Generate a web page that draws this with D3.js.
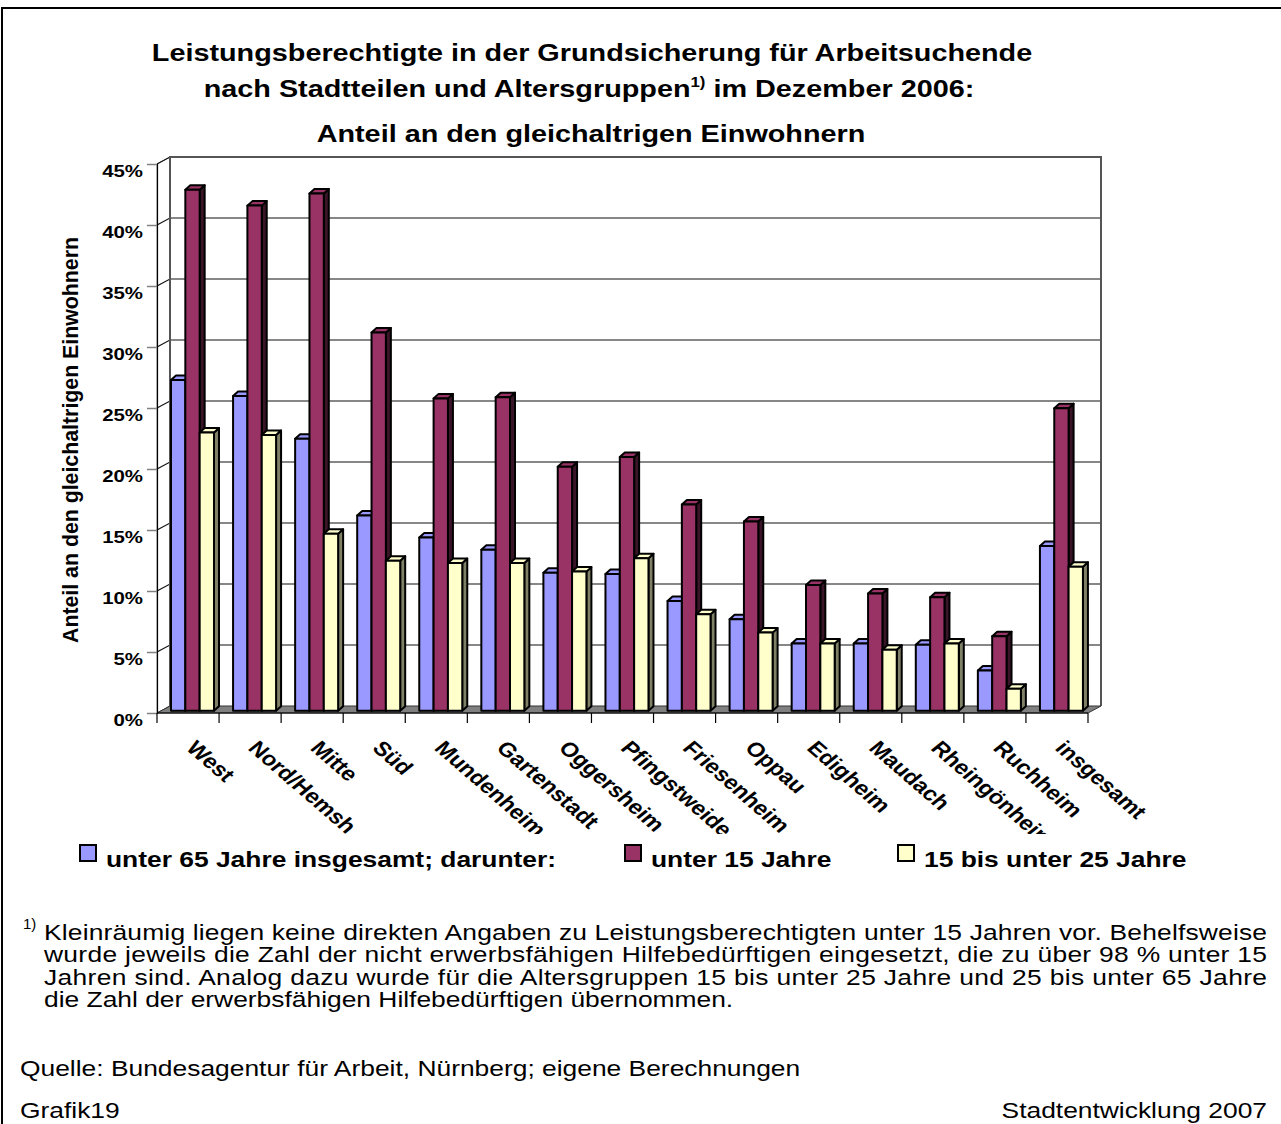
<!DOCTYPE html>
<html>
<head>
<meta charset="utf-8">
<script src="https://cdn.jsdelivr.net/npm/d3@7"></script>
<style>
  body { margin: 0; background: #fff; }
  text { font-family: "Liberation Sans", Arial, sans-serif; fill: #000; }
</style>
</head>
<body>
<svg id="chart" width="1281" height="1124"></svg>
<script>
// data (percent)
var categories = ["West", "Nord/Hemsh", "Mitte", "Süd", "Mundenheim", "Gartenstadt", "Oggersheim",
  "Pfingstweide", "Friesenheim", "Oppau", "Edigheim", "Maudach", "Rheingönheim", "Ruchheim", "insgesamt"];
var seriesNames = ["unter 65 Jahre insgesamt; darunter:", "unter 15 Jahre", "15 bis unter 25 Jahre"];
var unter65 = [27.1, 25.8, 22.3, 16.0, 14.2, 13.2, 11.3, 11.2, 9.0, 7.5, 5.5, 5.5, 5.4, 3.3, 13.5];
var unter15 = [42.7, 41.4, 42.4, 31.0, 25.6, 25.7, 20.0, 20.8, 16.9, 15.5, 10.3, 9.6, 9.3, 6.1, 24.8];
var von15bis25 = [22.8, 22.6, 14.5, 12.3, 12.1, 12.1, 11.4, 12.5, 7.9, 6.4, 5.5, 5.0, 5.5, 1.8, 11.8];
var yTicks = [0, 5, 10, 15, 20, 25, 30, 35, 40, 45];

var titleLines = ["Leistungsberechtigte in der Grundsicherung für Arbeitsuchende",
  "nach Stadtteilen und Altersgruppen", " im Dezember 2006:",
  "Anteil an den gleichaltrigen Einwohnern"];
var yTitle = "Anteil an den gleichaltrigen Einwohnern";
var footLines = ["Kleinräumig liegen keine direkten Angaben zu Leistungsberechtigten unter 15 Jahren vor. Behelfsweise",
  "wurde jeweils die Zahl der nicht erwerbsfähigen Hilfebedürftigen eingesetzt, die zu über 98 % unter 15",
  "Jahren sind. Analog dazu wurde für die Altersgruppen 15 bis unter 25 Jahre und 25 bis unter 65 Jahre",
  "die Zahl der erwerbsfähigen Hilfebedürftigen übernommen."];
var sourceText = "Quelle: Bundesagentur für Arbeit, Nürnberg; eigene Berechnungen";

var fronts = ["#9999ff", "#993366", "#ffffcc"];
var sides = ["#4c4c80", "#3a1427", "#808066"];
var tops = ["#9999ff", "#993366", "#ffffcc"];

var SX = 1.2;   // text in the picture is stretched horizontally
var svg = d3.select("#chart");

// frame
svg.append("rect").attr("x", 2).attr("y", 8).attr("width", 1300).attr("height", 1140)
  .attr("fill", "none").attr("stroke", "#000").attr("stroke-width", 2);

// scales
var X0 = 157, X1 = 1088, DX = 13, DY = -7;
var y = d3.scaleLinear().domain([0, 45]).range([713, 164]);
var x0 = d3.scaleBand().domain(categories).range([X0, X1]);
var x1 = d3.scaleBand().domain(d3.range(3)).range([14, 57]);
var bw = x0.bandwidth();

function poly(pts) { return "M" + pts.map(function(p) { return p.join(","); }).join("L") + "Z"; }

// walls and floor
var ytop = y(45), ybot = y(0);
svg.append("path").attr("d", poly([[X0 + DX, ytop + DY], [X1 + DX, ytop + DY], [X1 + DX, ybot + DY], [X0 + DX, ybot + DY]]))
  .attr("fill", "#fff").attr("stroke", "none");
svg.append("path").attr("d", poly([[X0, ybot], [X0, ytop], [X0 + DX, ytop + DY], [X0 + DX, ybot + DY]]))
  .attr("fill", "#fff").attr("stroke", "#808080").attr("stroke-width", 1);

// gridlines (back wall + left wall)
var grid = svg.append("g");
yTicks.forEach(function(t) {
  if (t === 0) return;
  grid.append("path")
    .attr("d", "M" + X0 + "," + y(t) + "L" + (X0 + DX) + "," + (y(t) + DY) + "H" + (X1 + DX))
    .attr("fill", "none").attr("stroke", "#111").attr("stroke-width", 1.2);
});
// wall outline
svg.append("path").attr("d", "M" + (X0 + DX) + "," + (ybot + DY) + "V" + (ytop + DY) + "H" + (X1 + DX) + "V" + (ybot + DY))
  .attr("fill", "none").attr("stroke", "#555").attr("stroke-width", 2);
svg.append("path").attr("d", "M" + X0 + "," + ybot + "L" + (X0 + DX) + "," + (ybot + DY))
  .attr("stroke", "#555").attr("stroke-width", 1);

// floor
svg.append("path").attr("d", poly([[X0, ybot], [X1, ybot], [X1 + DX, ybot + DY], [X0 + DX, ybot + DY]]))
  .attr("fill", "#808080").attr("stroke", "#333").attr("stroke-width", 1);

// y axis
var yAxis = d3.axisLeft(y).tickValues(yTicks).tickSize(10).tickFormat(function(d) { return d + "%"; });
var ga = svg.append("g").attr("transform", "translate(" + X0 + ",0)").call(yAxis);
ga.select(".domain").attr("stroke", "#000").attr("stroke-width", 1.2);
ga.selectAll(".tick line").attr("stroke", "#808080").attr("stroke-width", 1.5);
ga.selectAll(".tick text")
  .attr("x", null).attr("dy", null)
  .attr("transform", "translate(-14,12) scale(" + SX + ",1)")
  .attr("text-anchor", "end")
  .style("font-family", "'Liberation Sans', Arial, sans-serif")
  .style("font-size", "17px").style("font-weight", "bold").attr("fill", "#000");

// category ticks under the floor
var xTickPos = categories.map(function(c) { return x0(c); }).concat([X1]);
svg.append("g").selectAll("line").data(xTickPos).enter().append("line")
  .attr("x1", function(d) { return d; }).attr("x2", function(d) { return d; })
  .attr("y1", ybot).attr("y2", ybot + 10)
  .attr("stroke", "#000").attr("stroke-width", 1.2);
svg.append("line").attr("x1", X0).attr("x2", X1).attr("y1", ybot).attr("y2", ybot)
  .attr("stroke", "#000").attr("stroke-width", 1.2);

// bars
var series = [unter65, unter15, von15bis25];
var BDX = 5, BDY = -4.5, BZ = -2.3;
var bars = svg.append("g");
categories.forEach(function(c, i) {
  series.forEach(function(vals, s) {
    var bx = x0(c) + x1(s), w = x1.bandwidth();
    var top = y(vals[i]) + BZ, bot = y(0) + BZ;
    var g = bars.append("g").attr("stroke", "#000").attr("stroke-width", 2).attr("stroke-linejoin", "round");
    g.append("path").attr("d", poly([[bx + w, top], [bx + w + BDX, top + BDY], [bx + w + BDX, bot + BDY], [bx + w, bot]]))
      .attr("fill", sides[s]);
    g.append("path").attr("d", poly([[bx, top], [bx + BDX, top + BDY], [bx + w + BDX, top + BDY], [bx + w, top]]))
      .attr("fill", tops[s]);
    g.append("rect").attr("x", bx).attr("y", top).attr("width", w).attr("height", bot - top)
      .attr("fill", fronts[s]);
  });
});

// category labels (clipped like in the original)
svg.append("clipPath").attr("id", "labclip").append("rect")
  .attr("x", 0).attr("y", 720).attr("width", 1281).attr("height", 114);
svg.append("g").attr("clip-path", "url(#labclip)")
  .selectAll("text").data(categories).enter().append("text")
  .attr("transform", function(c) {
    return "translate(" + (x0(c) + bw / 2 - 3) + ",749) scale(" + SX + ",1) rotate(46)";
  })
  .style("font-size", "20px").style("font-weight", "bold")
  .text(function(c) { return c; });

// y title
svg.append("text")
  .attr("transform", "translate(78,440) scale(" + SX + ",1) rotate(-90)")
  .attr("text-anchor", "middle")
  .attr("textLength", 406).attr("lengthAdjust", "spacingAndGlyphs")
  .style("font-size", "18px").style("font-weight", "bold")
  .text(yTitle);

// title
var tt = svg.append("g").style("font-size", "24px").style("font-weight", "bold");
tt.append("text").attr("transform", "translate(592,61) scale(" + SX + ",1)").attr("text-anchor", "middle").text(titleLines[0]);
var t2 = tt.append("text").attr("transform", "translate(589,97) scale(" + SX + ",1)").attr("text-anchor", "middle");
t2.append("tspan").text(titleLines[1]);
t2.append("tspan").attr("dy", -10).style("font-size", "14px").text("1)");
t2.append("tspan").attr("dy", 10).text(titleLines[2]);
tt.append("text").attr("transform", "translate(591,142) scale(" + SX + ",1)").attr("text-anchor", "middle").text(titleLines[3]);

// legend
var legX = [80, 625, 898], legTextX = [106, 651, 924];
var leg = svg.append("g");
seriesNames.forEach(function(n, s) {
  leg.append("rect").attr("x", legX[s]).attr("y", 845).attr("width", 16).attr("height", 16)
    .attr("fill", fronts[s]).attr("stroke", "#000").attr("stroke-width", 2);
  leg.append("text").attr("transform", "translate(" + legTextX[s] + ",867) scale(" + SX + ",1)")
    .style("font-size", "22px").style("font-weight", "bold").text(n);
});

// footnote
var foot = svg.append("g").style("font-size", "22px");
foot.append("text").attr("x", 23).attr("y", 929).style("font-size", "15px").text("1)");
footLines.forEach(function(l, i) {
  var t = foot.append("text").attr("transform", "translate(44," + (940 + i * 22.3) + ") scale(" + SX + ",1)").text(l);
  if (i < 3) t.attr("textLength", 1223 / SX).attr("lengthAdjust", "spacing");
});
foot.append("text").attr("transform", "translate(20,1076) scale(" + SX + ",1)").text(sourceText);
foot.append("text").attr("transform", "translate(20,1118) scale(" + SX + ",1)").text("Grafik19");
foot.append("text").attr("transform", "translate(1267,1118) scale(" + SX + ",1)").attr("text-anchor", "end").text("Stadtentwicklung 2007");
</script>
</body>
</html>
